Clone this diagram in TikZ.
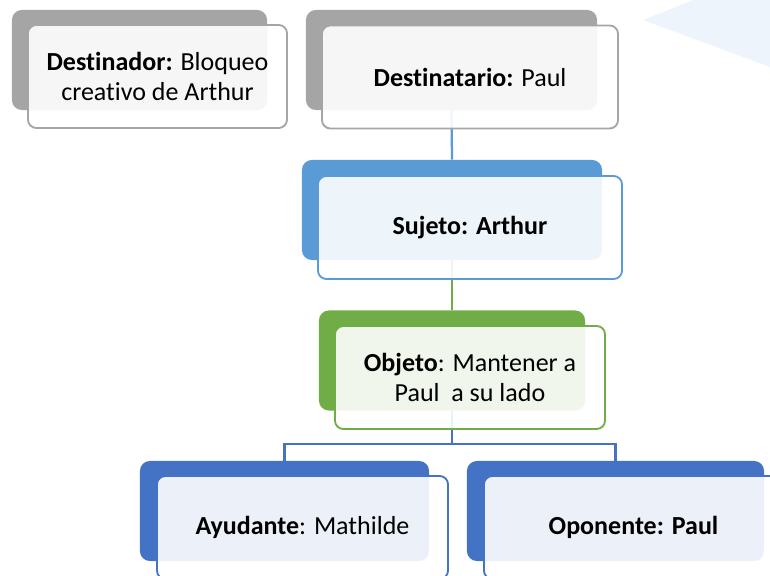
\documentclass[tikz,border=0pt]{standalone}
\usepackage{fontspec}
\setmainfont[RawFeature=-liga]{Carlito}
\usepackage{tikz}

\definecolor{gris}{HTML}{A5A5A5}
\definecolor{azulclaro}{HTML}{5B9BD5}
\definecolor{verde}{HTML}{70AD47}
\definecolor{azul}{HTML}{4472C4}
\definecolor{fondo}{HTML}{EEF4FB}

\begin{document}
\begin{tikzpicture}[x=0.025cm, y=-0.025cm, font=\fontsize{18.5}{21.5}\selectfont]

	% Estilos de las cajas (fondo y frente) y de los conectores
	\tikzset{
		backbox/.style={
			fill=#1,
			rounded corners=7pt,
			minimum height=2.5cm,
			inner sep=0pt
		},
		frontbox/.style={
			draw=#1,
			line width=1.3pt,
			fill=white,
			fill opacity=0.9,
			text opacity=1,
			rounded corners=6pt,
			minimum height=2.575cm,
			align=center,
			inner sep=0pt
		},
		link/.style={
			draw=#1,
			line width=1.6pt
		}
	}

	\clip (0,0) rectangle (770,576);

	% Forma clara arriba a la derecha
	\fill[fondo] (643,20) -- (693,0) -- (770,0) -- (770,67) -- cycle;

	% Cajas de fondo
	\node[backbox=gris, minimum width=6.375cm] (bDest) at (139.5,60) {};
	\node[backbox=gris, minimum width=7.275cm] (bDesti) at (451.5,60) {};
	\node[backbox=azulclaro, minimum width=7.5cm] (bSuj) at (452,210) {};
	\node[backbox=verde, minimum width=6.65cm] (bObj) at (452,360.5) {};
	\node[backbox=azul, minimum width=7.225cm] (bAyu) at (284.5,511) {};
	\node[backbox=azul, minimum width=7.425cm] (bOpo) at (615.5,511) {};

	% Conectores
	\coordinate (split) at (452,444);
	\draw[link=azulclaro] (bDesti.south) -- (bSuj.north);
	\draw[link=verde] (bSuj.south) -- (bObj.north);
	\draw[link=azul] (bObj.south) -- (split) -| (bAyu.north);
	\draw[link=azul] (split) -| (bOpo.north);

	% Cajas de frente con los textos
	\node[frontbox=gris, minimum width=6.475cm] (fDest) at (157.5,76.5)
		{\textbf{Destinador:} Bloqueo\\creativo de Arthur};
	\node[frontbox=gris, minimum width=7.4cm] (fDesti) at (470,77)
		{\textbf{Destinatario:} Paul};
	\node[frontbox=azulclaro, minimum width=7.6cm] (fSuj) at (470,227.5)
		{\textbf{Sujeto: Arthur}};
	\node[frontbox=verde, minimum width=6.75cm] (fObj) at (470,377.5)
		{\textbf{Objeto}: Mantener a\\Paul\ \ a su lado};
	\node[frontbox=azul, minimum width=7.275cm] (fAyu) at (302.5,527.5)
		{\textbf{Ayudante}: Mathilde};
	\node[frontbox=azul, minimum width=7.475cm] (fOpo) at (633.5,527.5)
		{\textbf{Oponente: Paul}};

\end{tikzpicture}
\end{document}
